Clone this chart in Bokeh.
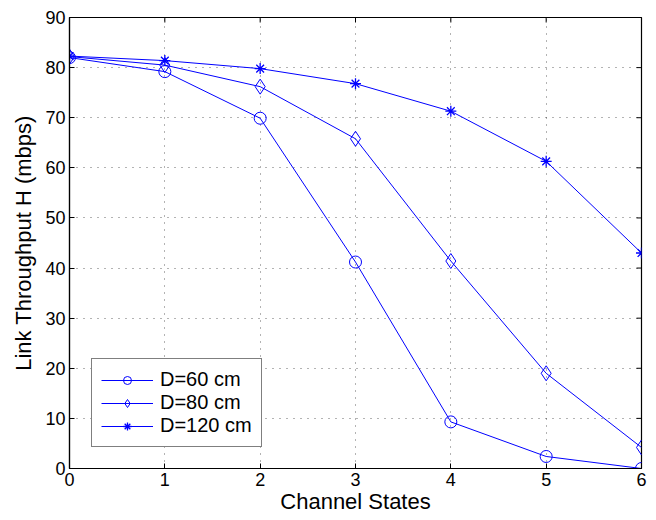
import math
from bokeh.plotting import figure
from bokeh.models import Legend, LegendItem, FixedTicker, Range1d
from bokeh.embed import file_html
from bokeh.resources import INLINE

x_states = [0, 1, 2, 3, 4, 5, 6]
d60 = [82.0, 79.2, 69.9, 41.2, 9.3, 2.4, 0.0]
d80 = [82.2, 80.5, 76.2, 65.8, 41.4, 19.0, 4.2]
d120 = [82.3, 81.4, 79.8, 76.8, 71.3, 61.3, 43.0]
labels = ["D=60 cm", "D=80 cm", "D=120 cm"]
x_ticks = [0, 1, 2, 3, 4, 5, 6]
y_ticks = [0, 10, 20, 30, 40, 50, 60, 70, 80, 90]
x_min, x_max = 0, 6
y_min, y_max = 0, 90

BLUE = "#0000ff"
FONT = "Liberation Sans"

p = figure(width=656, height=520, output_backend="svg", toolbar_location=None,
           x_range=Range1d(x_min, x_max), y_range=Range1d(y_min, y_max),
           min_border_left=69, min_border_right=15, min_border_top=17, min_border_bottom=52)
p.outline_line_color = "black"
p.outline_line_width = 1.2

for ax in (p.xaxis[0], p.yaxis[0]):
    ax.major_tick_in = 5
    ax.major_tick_out = 0
    ax.minor_tick_out = 0
    ax.minor_tick_in = 0
    ax.axis_line_color = "black"
    ax.axis_line_width = 1.2
    ax.major_label_text_font = FONT
    ax.major_label_text_font_size = "18px"
    ax.major_label_text_color = "black"
    ax.axis_label_text_font = FONT
    ax.axis_label_text_font_size = "22px"
    ax.axis_label_text_font_style = "normal"
    ax.axis_label_text_color = "black"

p.xaxis[0].major_label_standoff = 4
p.xaxis[0].axis_label_standoff = 0
p.yaxis[0].major_label_standoff = 4
p.yaxis[0].axis_label_standoff = 6

p.xaxis[0].ticker = FixedTicker(ticks=x_ticks)
p.yaxis[0].ticker = FixedTicker(ticks=y_ticks)
p.xaxis[0].axis_label = "Channel States"
p.yaxis[0].axis_label = "Link Throughput H (mbps)"

p.xgrid.ticker = FixedTicker(ticks=x_ticks)
p.ygrid.ticker = FixedTicker(ticks=y_ticks)
for g in (p.xgrid[0], p.ygrid[0]):
    g.grid_line_color = "black"
    g.grid_line_alpha = 0.6
    g.grid_line_dash = "1 6"
    g.grid_line_width = 1

# inward tick marks on the top and right edges of the box (half clipped by the frame)
p.scatter(x_ticks, [y_max] * len(x_ticks), marker="dash", angle=math.pi / 2, size=10,
          line_color="black", line_width=1)
p.scatter([x_max] * len(y_ticks), y_ticks, marker="dash", size=10,
          line_color="black", line_width=1)

r1l = p.line(x_states, d60, line_color=BLUE, line_width=1)
r1m = p.scatter(x_states, d60, marker="circle", size=12, fill_color=None, line_color=BLUE, line_width=1)
r2l = p.line(x_states, d80, line_color=BLUE, line_width=1)
r2m = p.scatter(x_states, d80, marker="diamond", size=15, fill_color=None, line_color=BLUE, line_width=1)
r3l = p.line(x_states, d120, line_color=BLUE, line_width=1)
r3m = p.scatter(x_states, d120, marker="asterisk", size=11, fill_color=None, line_color=BLUE, line_width=1.3)

legend = Legend(items=[LegendItem(label=labels[0], renderers=[r1l, r1m]),
                       LegendItem(label=labels[1], renderers=[r2l, r2m]),
                       LegendItem(label=labels[2], renderers=[r3l, r3m])],
                location=(22, 21))
legend.border_line_color = "black"
legend.border_line_width = 1.2
legend.background_fill_color = "white"
legend.background_fill_alpha = 1
legend.label_text_font = FONT
legend.label_text_font_size = "20px"
legend.label_text_color = "black"
legend.glyph_width = 52
legend.glyph_height = 20
legend.label_height = 20
legend.label_standoff = 7
legend.spacing = 0
legend.padding = 9
legend.margin = 0
p.add_layout(legend, "center")

open("out.html", "w").write(file_html(p, INLINE))
